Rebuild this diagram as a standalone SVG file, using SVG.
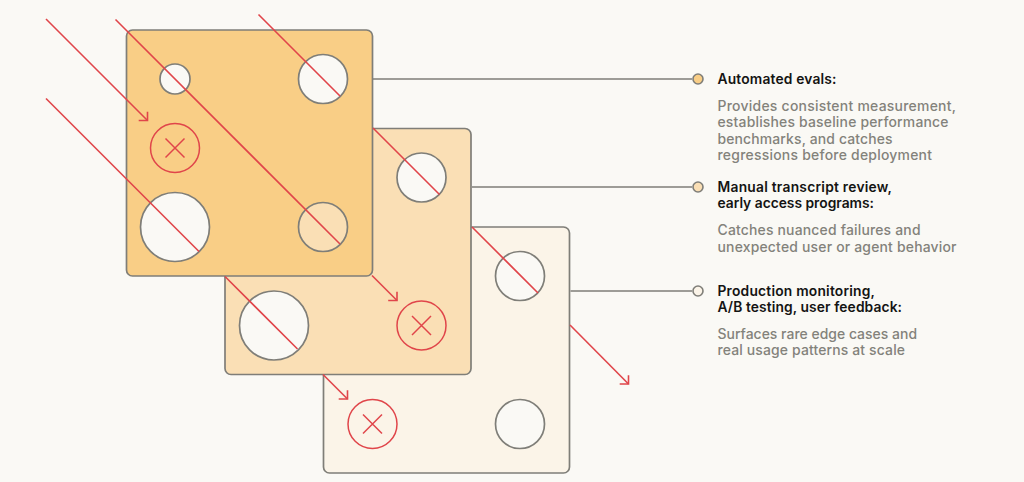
<svg xmlns="http://www.w3.org/2000/svg" width="1024" height="482" viewBox="0 0 1024 482">
<style>
.card{stroke:#7F7E78;stroke-width:1.7}
.hole{fill:#FAF9F5;stroke:#7F7E78;stroke-width:1.7}
.miss{fill:none;stroke:#E0454A;stroke-width:1.5}
.ray{fill:none;stroke:#E0454A;stroke-width:1.6}
.lead{fill:none;stroke:#7F7E78;stroke-width:1.7}
text{font-family:Inter,"Liberation Sans",sans-serif}
.h{fill:#141413;font-weight:600;font-size:13.8px}
.d{fill:#83827B;font-weight:500;font-size:13.95px}
</style>
<defs>
<marker id="arrow" markerUnits="userSpaceOnUse" markerWidth="12" markerHeight="12" refX="10" refY="10" viewBox="0 0 12 12"><path d="M1.200 10H10V1.200" fill="none" stroke="#E0454A" stroke-width="1.600"/></marker>
</defs>
<rect width="1024" height="482" fill="#FAF9F5"/>
<g id="card-3"><rect class="card" x="323.500" y="227" width="246" height="246" rx="6" fill="#FBF4E8"/>
<circle class="hole" cx="520" cy="276" r="24.500"/><circle class="miss" cx="372.500" cy="424" r="24.500"/><path class="miss" d="M363 414.500 382 433.500M382 414.500 363 433.500"/><circle class="hole" cx="520" cy="424" r="24.500"/></g>
<g id="card-2"><rect class="card" x="225" y="128.500" width="246" height="246" rx="6" fill="#FADFB5"/>
<circle class="hole" cx="421.500" cy="177.500" r="24.500"/><circle class="hole" cx="274" cy="325.500" r="34.500"/><circle class="miss" cx="421.500" cy="325.500" r="24.500"/><path class="miss" d="M412 316 431 335M431 316 412 335"/></g>
<g id="card-1"><rect class="card" x="126.500" y="30" width="246" height="246" rx="6" fill="#F9CE86"/>
<circle class="hole" cx="175" cy="79" r="15"/><circle class="hole" cx="323" cy="79" r="24.500"/><circle class="miss" cx="175" cy="148" r="24.500"/><path class="miss" d="M165.500 138.500 184.500 157.500M184.500 138.500 165.500 157.500"/><circle class="hole" cx="175" cy="227" r="34.500"/><circle class="hole" cx="323" cy="227" r="24.500" style="fill:#FADFB5"/></g>
<g id="connectors">
<path class="lead" d="M373 79H692M472 187H692M570.500 291H692"/>
<path class="ray" d="M46 19 147.500 120.500" marker-end="url(#arrow)"/>
<path class="ray" d="M115.500 19.500 340 244"/>
<path class="ray" d="M372 275.500 397 300.500" marker-end="url(#arrow)"/>
<path class="ray" d="M258.500 14.500 340 96M373 128 439.500 194.500M472 227 538 293"/>
<path class="ray" d="M570 325 628.500 384" marker-end="url(#arrow)"/>
<path class="ray" d="M46 98.500 199 251.500M225 276.500 297.500 349"/>
<path class="ray" d="M323 374.500 347.500 399" marker-end="url(#arrow)"/>
</g>
<g id="legend-1"><circle cx="698" cy="79" r="5" fill="#F9CE86" stroke="#7F7E78" stroke-width="1.600"/>
<text class="h" x="717.500" y="83.500" textLength="119">Automated evals:</text>
<text class="d" x="717.500" y="110.500" textLength="238.500">Provides consistent measurement,</text>
<text class="d" x="717.500" y="127" textLength="231">establishes baseline performance</text>
<text class="d" x="717.500" y="143.500" textLength="175">benchmarks, and catches</text>
<text class="d" x="717.500" y="160" textLength="214.500">regressions before deployment</text></g>
<g id="legend-2"><circle cx="698" cy="187" r="5" fill="#FADFB5" stroke="#7F7E78" stroke-width="1.600"/>
<text class="h" x="717.500" y="191.500" textLength="174.500">Manual transcript review,</text>
<text class="h" x="717.500" y="208" textLength="156.500">early access programs:</text>
<text class="d" x="717.500" y="235" textLength="203">Catches nuanced failures and</text>
<text class="d" x="717.500" y="251.500" textLength="239">unexpected user or agent behavior</text></g>
<g id="legend-3"><circle cx="698" cy="291" r="5" fill="#FBF4E8" stroke="#7F7E78" stroke-width="1.600"/>
<text class="h" x="717.500" y="295.500" textLength="157.500">Production monitoring,</text>
<text class="h" x="717.500" y="312" textLength="184.500">A/B testing, user feedback:</text>
<text class="d" x="717.500" y="338.500" textLength="199.500">Surfaces rare edge cases and</text>
<text class="d" x="717.500" y="355" textLength="187.500">real usage patterns at scale</text></g>
</svg>
